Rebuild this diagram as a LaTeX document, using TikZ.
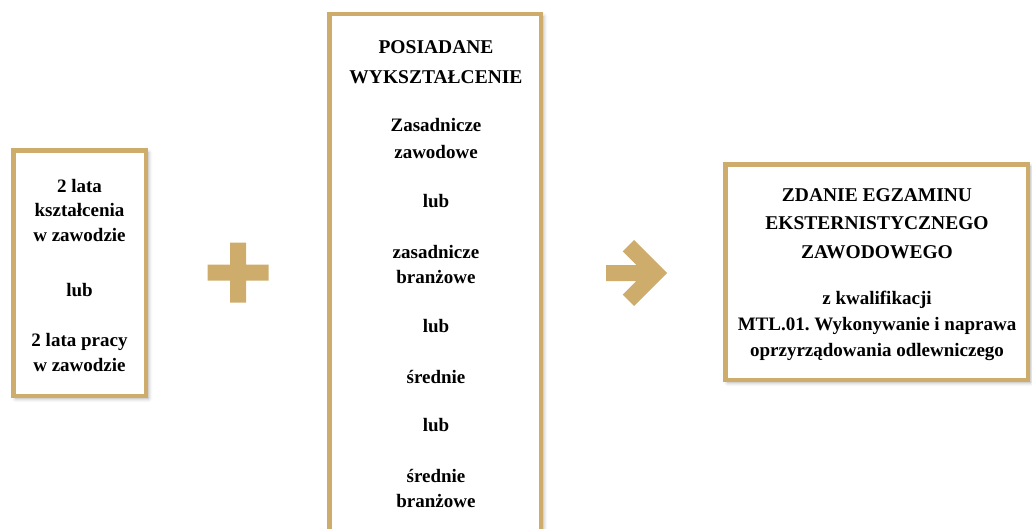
\documentclass[tikz,border=0pt]{standalone}
\usepackage{fontspec}
\setmainfont{Liberation Serif}
\usetikzlibrary{shadows.blur}
\definecolor{gold}{RGB}{206,172,108}
\frenchspacing
\tikzset{
  box/.style={draw=gold, line width=4.5pt, fill=white, inner sep=0pt,
    blur shadow={shadow xshift=2.5pt, shadow yshift=-2.5pt, shadow opacity=35, shadow blur radius=4pt}},
  txt/.style={font=\bfseries\fontsize{19}{24.5}\selectfont, align=center, inner sep=0pt, text=black},
  head/.style={font=\bfseries\fontsize{19.5}{30}\selectfont, align=center, inner sep=0pt, text=black},
  sym/.style={fill=gold, draw=none}
}
\begin{document}
\begin{tikzpicture}[x=1pt,y=-1pt]
\useasboundingbox (0,0) rectangle (1032,528);
\clip (0,0) rectangle (1032,528);
% boxes
\node[box, minimum width=132.5pt, minimum height=245.5pt] (left) at (79.5,273) {};
\node[box, minimum width=211.5pt, minimum height=545.75pt] (mid) at (435,287) {};
\node[box, minimum width=302.5pt, minimum height=215.5pt] (right) at (876.5,272) {};
% left texts
\node[txt] (l1) at (79.5,210) {2 lata\\kształcenia\\w zawodzie};
\node[txt] (l2) at (79.5,290) {lub};
\node[txt] (l3) at (79.5,352.5) {2 lata pracy\\w zawodzie};
% middle texts
\node[head] (m0) at (436,62) {POSIADANE\\WYKSZTAŁCENIE};
\node[txt, font=\bfseries\fontsize{19}{26.5}\selectfont] (m1) at (436,138.5) {Zasadnicze\\zawodowe};
\node[txt] (m2) at (436,201) {lub};
\node[txt] (m3) at (436,264.5) {zasadnicze\\branżowe};
\node[txt] (m4) at (436,326) {lub};
\node[txt] (m5) at (436,377) {średnie};
\node[txt] (m6) at (436,425) {lub};
\node[txt] (m7) at (436,488.5) {średnie\\branżowe};
% right texts
\node[head, font=\bfseries\fontsize{19.5}{28.5}\selectfont] (r1) at (877,223.5) {ZDANIE EGZAMINU\\EKSTERNISTYCZNEGO\\ZAWODOWEGO};
\node[txt, font=\bfseries\fontsize{19}{26}\selectfont] (r2) at (877,326) {z kwalifikacji\\MTL.01. Wykonywanie i naprawa\\oprzyrządowania odlewniczego};
% plus
\path[sym] (230,242.5) -- (246,242.5) -- (246,264.5) -- (268.5,264.5) -- (268.5,280.5) -- (246,280.5) -- (246,302.5) -- (230,302.5) -- (230,280.5) -- (207.5,280.5) -- (207.5,264.5) -- (230,264.5) -- cycle;
% arrow
\path[sym] (606,265) -- (636.4,265) -- (622.7,251.3) -- (634,240) -- (667,273) -- (634,306) -- (622.7,294.7) -- (636.4,281) -- (606,281) -- cycle;
\end{tikzpicture}
\end{document}
